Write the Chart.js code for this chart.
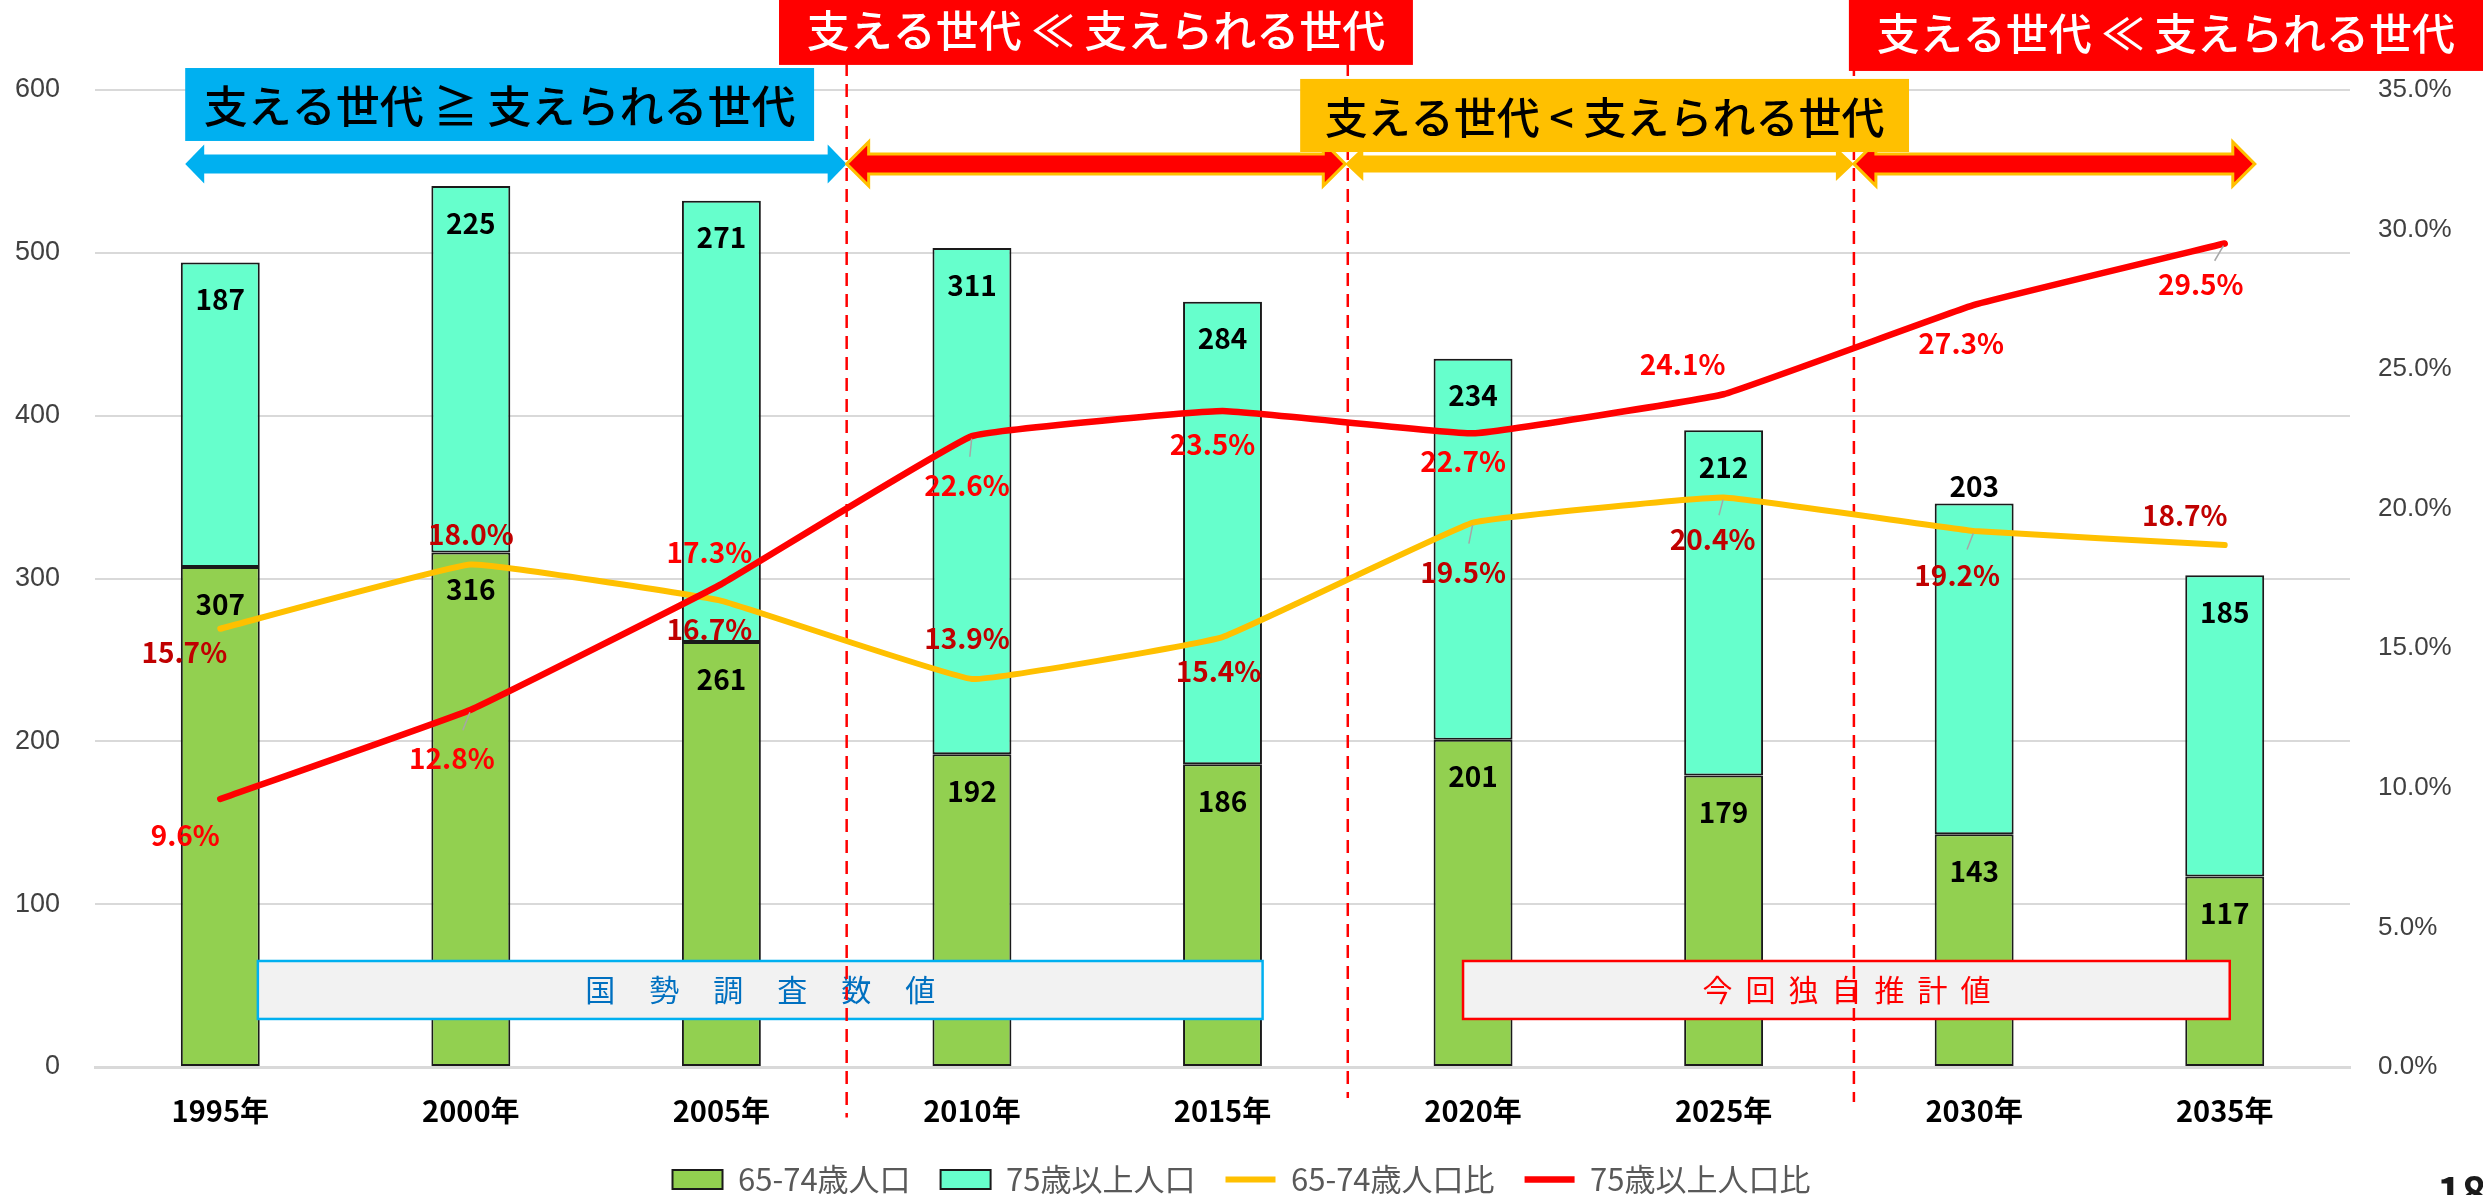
<!DOCTYPE html>
<html lang="ja">
<head>
<meta charset="utf-8">
<script src="https://cdn.jsdelivr.net/npm/chart.js@4.4.1/dist/chart.umd.min.js"></script>
<style>
  html, body { margin: 0; padding: 0; background: #fff; overflow: hidden; }
</style>
</head>
<body>
<canvas id="chart" width="2483" height="1205"></canvas>
<script>
const FONT = '"Noto Sans CJK JP", "Noto Sans", sans-serif'
const LATIN = '"Liberation Sans", Arial, sans-serif'

const years = ['1995年', '2000年', '2005年', '2010年', '2015年', '2020年', '2025年', '2030年', '2035年']
const pop6574 = [307, 316, 261, 192, 186, 201, 179, 143, 117]
const pop75over = [187, 225, 271, 311, 284, 234, 212, 203, 185]
const rate6574 = [15.7, 18.0, 16.7, 13.9, 15.4, 19.5, 20.4, 19.2, 18.7]
const rate75over = [9.6, 12.8, 17.3, 22.6, 23.5, 22.7, 24.1, 27.3, 29.5]
const popTicks = ['0', '100', '200', '300', '400', '500', '600']
const rateTicks = ['0.0%', '5.0%', '10.0%', '15.0%', '20.0%', '25.0%', '30.0%', '35.0%']
const seriesNames = ['65-74歳人口', '75歳以上人口', '65-74歳人口比', '75歳以上人口比']

// label nudges (px) for the ratio labels, placed by hand like the original
const shift6574 = [[-36, 24], [0, -30], [-12, 29], [-5, -41], [-4, 34], [-10, 50], [-11, 42], [-17, 44], [-40, -30]]
const shift75 = [[-35, 36], [-19, 49], [-12, -32], [-5, 49], [-10, 33], [-10, 28], [-41, -30], [-13, 38], [-24, 41]]
const leaders6574 = [5, 6, 7]
const leaders75 = [1, 3, 8]

// decorations: x in category units, y in left axis units
const banners = [
  { text: '支える世代 ≧ 支えられる世代', x0: -0.14, x1: 2.37, top: 613.5, bottom: 568.7, fill: '#00B0F0', color: '#000', size: 44 },
  { text: '支える世代 ≪ 支えられる世代', x0: 2.23, x1: 4.76, top: 660, bottom: 615.4, fill: '#FF0000', color: '#fff', size: 43 },
  { text: '支える世代 < 支えられる世代', x0: 4.31, x1: 6.74, top: 606.8, bottom: 561.9, fill: '#FFC000', color: '#000', size: 43 },
  { text: '支える世代 ≪ 支えられる世代', x0: 6.5, x1: 9.2, top: 660, bottom: 611.7, fill: '#FF0000', color: '#fff', size: 43 }
]
const arrows = [
  { x0: -0.14, x1: 2.5, fill: '#00B0F0', shaft: 19, head: 39, len: 19 },
  { x0: 2.5, x1: 4.49, fill: '#FF0000', stroke: '#FFC000', shaft: 20, head: 44, len: 22 },
  { x0: 4.49, x1: 6.52, fill: '#FFC000', shaft: 17, head: 34, len: 18 },
  { x0: 6.52, x1: 8.12, fill: '#FF0000', stroke: '#FFC000', shaft: 20, head: 44, len: 22 }
]
const arrowLevel = 554.6
const dividers = [{ x: 2.5, bottom: -31 }, { x: 4.5, bottom: -19 }, { x: 6.52, bottom: -21.5 }]
const sourceBoxes = [
  { text: '国勢調査数値', x0: 0.15, x1: 4.16, color: '#0070C0', border: '#00B0F0', pitch: 64 },
  { text: '今回独自推計値', x0: 4.96, x1: 8.02, color: '#FF0000', border: '#FF0000', pitch: 43 }
]
const sourceTop = 65.1
const sourceBottom = 29.5

Chart.defaults.font.family = FONT

function drawArrow(ctx, a, x0, x1, y) {
  const s = a.shaft / 2, h = a.head / 2
  ctx.beginPath()
  ctx.moveTo(x0, y)
  ctx.lineTo(x0 + a.len, y - h)
  ctx.lineTo(x0 + a.len, y - s)
  ctx.lineTo(x1 - a.len, y - s)
  ctx.lineTo(x1 - a.len, y - h)
  ctx.lineTo(x1, y)
  ctx.lineTo(x1 - a.len, y + h)
  ctx.lineTo(x1 - a.len, y + s)
  ctx.lineTo(x0 + a.len, y + s)
  ctx.lineTo(x0 + a.len, y + h)
  ctx.closePath()
  ctx.fillStyle = a.fill
  ctx.fill()
  if (a.stroke) {
    ctx.strokeStyle = a.stroke
    ctx.lineWidth = 3
    ctx.lineJoin = 'miter'
    ctx.stroke()
  }
}

let underlayDone = false

const decorations = {
  id: 'decorations',
  beforeDatasetsDraw() {
    underlayDone = false
  },
  // source boxes and dividers sit over the bars but under the lines
  beforeDatasetDraw(chart, args) {
    if (underlayDone || args.meta.type !== 'line') return
    underlayDone = true
    const { ctx, scales: { x, y } } = chart
    ctx.save()
    sourceBoxes.forEach(b => {
      const l = x.getPixelForValue(b.x0), r = x.getPixelForValue(b.x1)
      const t = y.getPixelForValue(sourceTop), bt = y.getPixelForValue(sourceBottom)
      ctx.fillStyle = '#F2F2F2'
      ctx.fillRect(l, t, r - l, bt - t)
      ctx.strokeStyle = b.border
      ctx.lineWidth = 2.5
      ctx.strokeRect(l, t, r - l, bt - t)
      ctx.fillStyle = b.color
      ctx.font = `30px ${FONT}`
      ctx.textAlign = 'center'
      ctx.textBaseline = 'middle'
      const chars = [...b.text]
      const mid = (l + r) / 2
      chars.forEach((c, i) => {
        ctx.fillText(c, mid + (i - (chars.length - 1) / 2) * b.pitch, (t + bt) / 2)
      })
    })
    ctx.strokeStyle = '#FF0000'
    ctx.lineWidth = 2.5
    ctx.setLineDash([13, 8])
    dividers.forEach(d => {
      const px = x.getPixelForValue(d.x)
      ctx.beginPath()
      ctx.moveTo(px, 0)
      ctx.lineTo(px, y.getPixelForValue(d.bottom))
      ctx.stroke()
    })
    ctx.restore()
  },
  afterDatasetsDraw(chart) {
    const { ctx, scales: { x, y } } = chart
    ctx.save()

    const ay = y.getPixelForValue(arrowLevel)
    arrows.forEach(a => drawArrow(ctx, a, x.getPixelForValue(a.x0), x.getPixelForValue(a.x1), ay))

    banners.forEach(b => {
      const l = x.getPixelForValue(b.x0), r = x.getPixelForValue(b.x1)
      const t = y.getPixelForValue(b.top), bt = y.getPixelForValue(b.bottom)
      ctx.fillStyle = b.fill
      ctx.fillRect(l, t, r - l, bt - t)
      ctx.fillStyle = b.color
      ctx.font = `500 ${b.size}px ${FONT}`
      ctx.textAlign = 'center'
      ctx.textBaseline = 'middle'
      ctx.fillText(b.text, (l + Math.min(r, chart.width)) / 2, (t + bt) / 2 + 2)
    })

    // values on the bar segments
    ctx.font = `bold 28px ${FONT}`
    ctx.textAlign = 'center'
    ctx.textBaseline = 'middle'
    ctx.fillStyle = '#000'
    ;[0, 1].forEach(di => {
      const meta = chart.getDatasetMeta(di)
      const vals = chart.data.datasets[di].data
      meta.data.forEach((bar, i) => {
        const above = di === 1 && i === 7
        ctx.fillText(vals[i], bar.x, above ? bar.y - 17 : bar.y + 37)
      })
    })

    // ratio labels
    const ratioLabels = (di, shifts, leaders, color) => {
      const meta = chart.getDatasetMeta(di)
      const vals = chart.data.datasets[di].data
      meta.data.forEach((pt, i) => {
        const [dx, dy] = shifts[i]
        if (leaders.includes(i)) {
          ctx.strokeStyle = '#A6A6A6'
          ctx.lineWidth = 1.5
          ctx.beginPath()
          ctx.moveTo(pt.x + dx * 0.05, pt.y + dy * 0.05)
          ctx.lineTo(pt.x + dx * 0.42, pt.y + dy * 0.42)
          ctx.stroke()
        }
        ctx.fillStyle = color
        ctx.fillText(vals[i].toFixed(1) + '%', pt.x + dx, pt.y + dy)
      })
    }
    ratioLabels(2, shift6574, leaders6574, '#C00000')
    ratioLabels(3, shift75, leaders75, '#FF0000')

    ctx.restore()
  },
  afterDraw(chart) {
    const { ctx } = chart
    ctx.save()
    ctx.fillStyle = '#1a1a1a'
    ctx.font = `bold 42px ${FONT}`
    ctx.textAlign = 'left'
    ctx.textBaseline = 'alphabetic'
    ctx.fillText('18', 2437, 1208)
    ctx.restore()
  }
}

new Chart(document.getElementById('chart'), {
  type: 'bar',
  data: {
    labels: years,
    datasets: [
      {
        type: 'bar', label: seriesNames[0], data: pop6574, yAxisID: 'y', order: 2,
        backgroundColor: '#92D050', borderColor: '#1a1a1a', borderWidth: 2, borderSkipped: false,
        categoryPercentage: 1, barPercentage: 0.315, pointStyle: 'rect'
      },
      {
        type: 'bar', label: seriesNames[1], data: pop75over, yAxisID: 'y', order: 2,
        backgroundColor: '#66FFCC', borderColor: '#1a1a1a', borderWidth: 2, borderSkipped: false,
        categoryPercentage: 1, barPercentage: 0.315, pointStyle: 'rect'
      },
      {
        type: 'line', label: seriesNames[2], data: rate6574, yAxisID: 'y1', order: 1,
        borderColor: '#FFC000', backgroundColor: '#FFC000', borderWidth: 6, tension: 0.08,
        pointRadius: 0, borderCapStyle: 'round', pointStyle: 'line'
      },
      {
        type: 'line', label: seriesNames[3], data: rate75over, yAxisID: 'y1', order: 0,
        borderColor: '#FF0000', backgroundColor: '#FF0000', borderWidth: 6.5, tension: 0.08,
        pointRadius: 0, borderCapStyle: 'round', pointStyle: 'line'
      }
    ]
  },
  options: {
    responsive: false,
    devicePixelRatio: 1,
    animation: false,
    layout: { padding: { top: 90, left: 0, right: 0, bottom: 0 } },
    plugins: {
      tooltip: { enabled: false },
      legend: {
        position: 'bottom',
        labels: {
          usePointStyle: true,
          pointStyleWidth: 50,
          boxHeight: 19,
          padding: 30,
          color: '#595959',
          font: { size: 31 },
          sort: (a, b) => a.datasetIndex - b.datasetIndex
        }
      }
    },
    scales: {
      x: {
        stacked: true,
        grid: { display: false },
        border: { color: '#D9D9D9', width: 3 },
        ticks: { color: '#000', font: { size: 29, weight: 'bold' }, padding: 19 },
        afterFit: s => { s.height = 67 }
      },
      y: {
        stacked: true,
        min: 0,
        max: 600,
        grid: { color: '#D9D9D9', lineWidth: 2, drawTicks: false },
        border: { display: false },
        ticks: {
          stepSize: 100, padding: 35, color: '#404040',
          font: { size: 27, family: LATIN },
          callback: (v, i) => popTicks[i]
        },
        afterFit: s => { s.width = 95 }
      },
      y1: {
        position: 'right',
        min: 0,
        max: 35,
        grid: { drawOnChartArea: false, drawTicks: false },
        border: { display: false },
        ticks: {
          stepSize: 5, padding: 28, color: '#404040',
          font: { size: 26, family: LATIN },
          callback: (v, i) => rateTicks[i]
        },
        afterFit: s => { s.width = 133 }
      }
    }
  },
  plugins: [decorations]
})
</script>
</body>
</html>
